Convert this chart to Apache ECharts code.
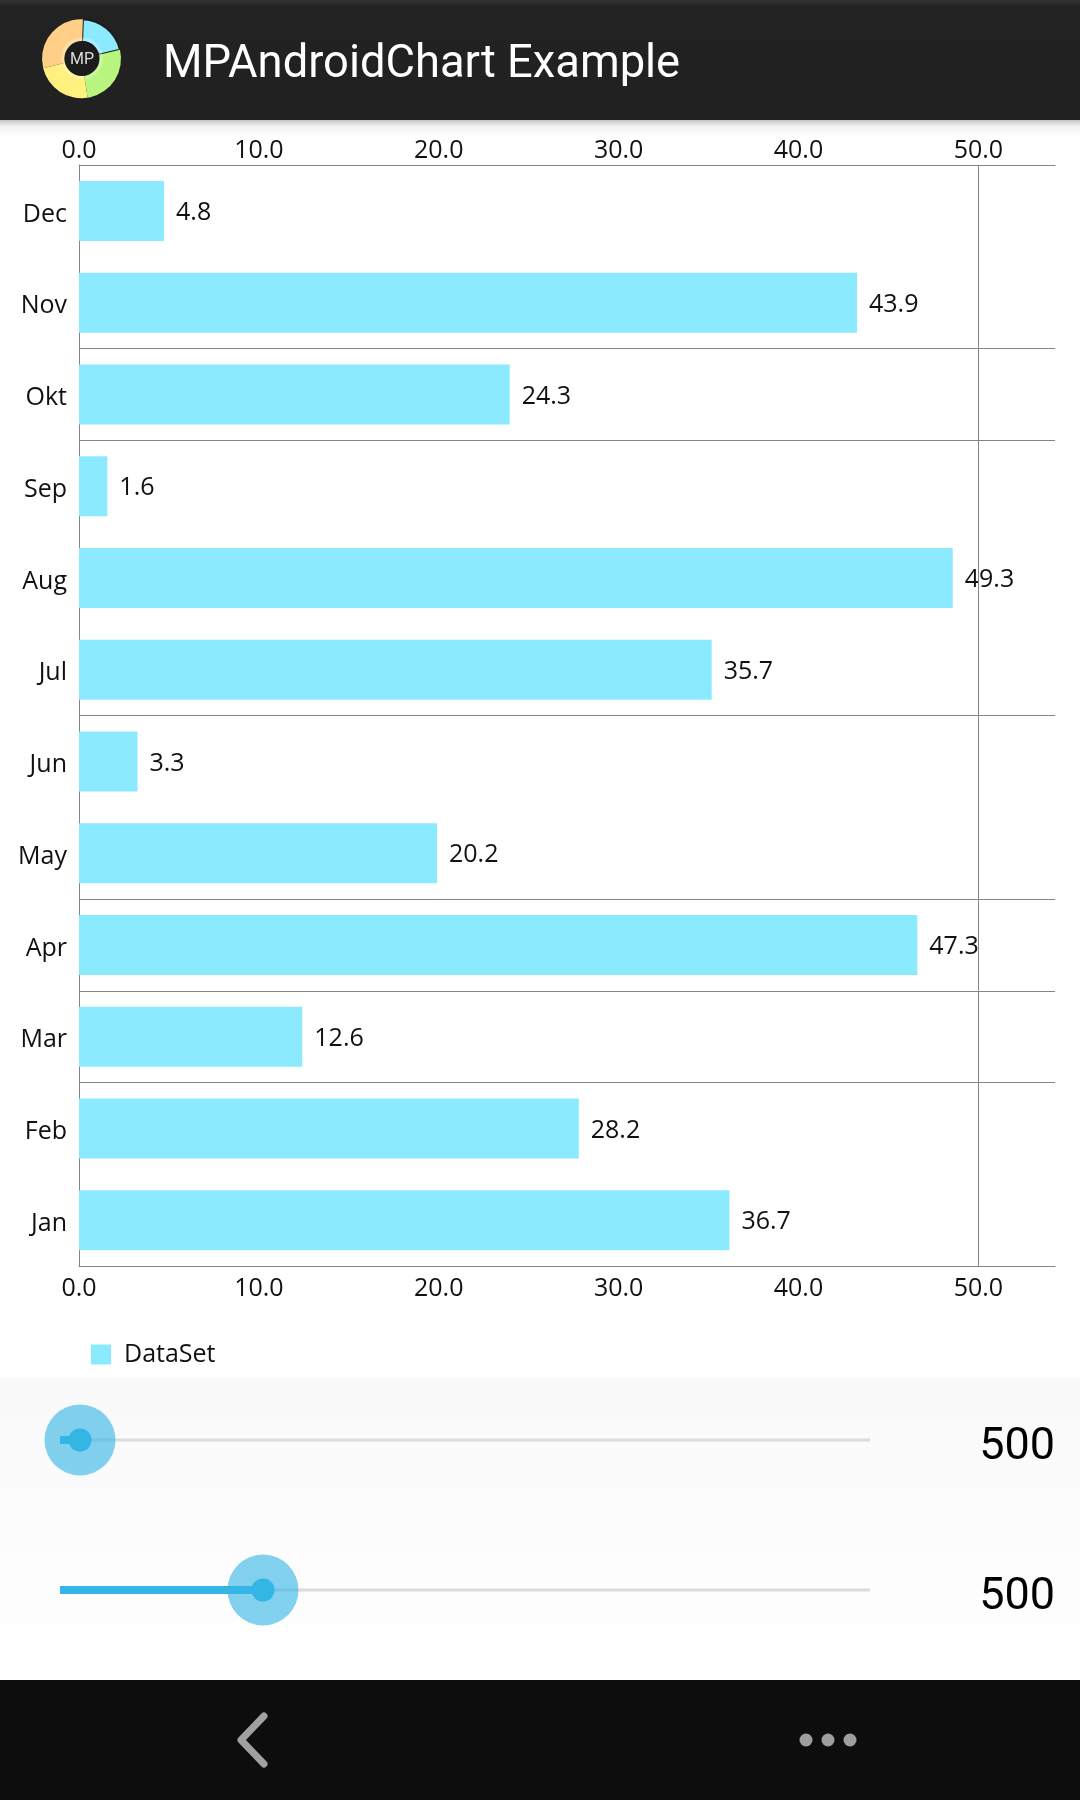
<!DOCTYPE html>
<html>
<head>
<meta charset="utf-8">
<style>
  html, body { margin: 0; padding: 0; background: #fff; }
  #chart { width: 1080px; height: 1800px; }
</style>
<script src="https://cdn.jsdelivr.net/npm/echarts@6/dist/echarts.min.js"></script>
</head>
<body>
<div id="chart"></div>
<script>
// values, bottom category first
const months = ["Jan", "Feb", "Mar", "Apr", "May", "Jun", "Jul", "Aug", "Sep", "Okt", "Nov", "Dec"];
const values = [36.7, 28.2, 12.6, 47.3, 20.2, 3.3, 35.7, 49.3, 1.6, 24.3, 43.9, 4.8];
const seriesName = "DataSet";
// only these category boundaries have a grid line in the reference
const gridLineMonths = [2, 3, 4, 6, 9, 10];
const verticalLineAt = [50];
const logoShares = [75, 94, 85, 106];
const logoColors = ["#8CEAFF", "#B9F67F", "#FFF07F", "#FFCF88"];
const sliderLabels = ["500", "500"];

const barColor = "#8CEAFF";
const lineColor = "#858585";
const labelFont = "Open Sans";

const chart = echarts.init(document.getElementById("chart"), null, { renderer: "canvas" });

const valueAxis = (position, margin) => ({
  type: "value",
  position: position,
  gridIndex: 0,
  min: 0,
  max: 54.26,
  interval: 10,
  splitLine: { show: false },
  axisTick: { show: false },
  axisLine: { show: true, onZero: false, lineStyle: { color: lineColor, width: 1 } },
  axisLabel: {
    showMaxLabel: false,
    margin: margin,
    fontFamily: labelFont,
    fontSize: 25,
    color: "#111",
    formatter: (v) => v.toFixed(1),
  },
});

// slider widget under the chart, not part of the data
const slider = (y, thumbX, text) => [
  { type: "rect", z: 1, shape: { x: 60, y: y - 1.5, width: 810, height: 3 }, style: { fill: "#DCDCDC" } },
  { type: "rect", z: 2, shape: { x: 60, y: y - 4, width: thumbX - 60, height: 8 }, style: { fill: "#33B5E5" } },
  { type: "circle", z: 3, shape: { cx: thumbX, cy: y, r: 35.5 }, style: { fill: "rgba(51,181,229,0.62)" } },
  { type: "circle", z: 4, shape: { cx: thumbX, cy: y, r: 11.5 }, style: { fill: "#33B5E5" } },
  {
    type: "text", z: 4, x: 1055, y: y + 8,
    style: { text: text, align: "right", verticalAlign: "middle", font: "45px Roboto", fill: "#000" },
  },
];

const option = {
  animation: false,
  backgroundColor: "#fff",
  grid: { left: 79, top: 165, width: 976, height: 1101, containLabel: false },
  legend: {
    data: [seriesName],
    left: 91,
    top: 1342,
    padding: 0,
    icon: "rect",
    itemWidth: 20,
    itemHeight: 20,
    selectedMode: false,
    textStyle: { fontFamily: labelFont, fontSize: 25, color: "#111", padding: [0, 0, 0, 8] },
  },
  xAxis: [
    valueAxis("bottom", 10),
    valueAxis("top", 2),
    // the reference draws its bars on a slightly wider scale than the printed axis
    { type: "value", show: false, min: 0, max: 55.07, splitLine: { show: false } },
  ],
  yAxis: {
    type: "category",
    data: months,
    axisTick: { show: false },
    axisLine: { show: true, lineStyle: { color: lineColor, width: 1 } },
    axisLabel: {
      margin: 12,
      formatter: "{m|{value}}",
      // padding on the rich token pushes the month names down a little, as in the reference
      rich: { m: { fontFamily: labelFont, fontSize: 25, color: "#111", padding: [7, 0, 0, 0] } },
    },
    splitLine: {
      show: true,
      interval: (index) => gridLineMonths.includes(index),
      lineStyle: { color: lineColor, width: 1 },
    },
  },
  series: [
    {
      name: seriesName,
      type: "bar",
      xAxisIndex: 2,
      data: values,
      barWidth: 60,
      itemStyle: { color: barColor },
      label: {
        show: true,
        position: "right",
        distance: 12,
        offset: [0, 2],
        formatter: "{c}",
        fontFamily: labelFont,
        fontSize: 25,
        color: "#111",
      },
      z: 3,
    },
    {
      type: "line",
      xAxisIndex: 0,
      data: [],
      markLine: {
        silent: true,
        symbol: "none",
        label: { show: false },
        lineStyle: { color: lineColor, width: 1, type: "solid" },
        data: verticalLineAt.map((v) => ({ xAxis: v })),
      },
    },
    {
      type: "pie",
      center: [81.5, 58.7],
      radius: [17, 39.5],
      startAngle: 88,
      silent: true,
      label: { show: false },
      labelLine: { show: false },
      data: logoShares.map((v, i) => ({
        value: v,
        itemStyle: i === 0
          ? { color: logoColors[i], borderColor: "#1c1c1c", borderWidth: 2 }
          : { color: logoColors[i], borderWidth: 0 },
      })),
      z: 6,
    },
  ],
  graphic: [
    // action bar
    { type: "rect", z: 0, shape: { x: 0, y: 120, width: 1080, height: 16 },
      style: { fill: new echarts.graphic.LinearGradient(0, 0, 0, 1, [
        { offset: 0, color: "#C4C4C4" }, { offset: 0.4, color: "#F2F2F2" }, { offset: 1, color: "#FFFFFF" },
      ]) } },
    { type: "rect", z: 1, shape: { x: 0, y: 0, width: 1080, height: 120 },
      style: { fill: new echarts.graphic.LinearGradient(0, 0, 0, 1, [
        { offset: 0, color: "#333333" }, { offset: 0.06, color: "#222222" }, { offset: 1, color: "#212121" },
      ]) } },
    { type: "circle", z: 10, shape: { cx: 82, cy: 58.5, r: 21 }, style: { fill: "rgba(255,255,255,0.25)" } },
    { type: "circle", z: 10, shape: { cx: 82, cy: 58.5, r: 17.5 }, style: { fill: "#1C1C1C" } },
    { type: "text", z: 11, x: 82, y: 60,
      style: { text: "MP", align: "center", verticalAlign: "middle", font: "16px Roboto", fill: "#DDD" } },
    { type: "text", z: 11, x: 163, y: 66,
      style: { text: "MPAndroidChart Example", align: "left", verticalAlign: "middle", font: "45.3px Roboto", fill: "#FFF" } },
    // panel behind the sliders
    { type: "rect", z: 0, shape: { x: 0, y: 1378, width: 1080, height: 302 },
      style: { fill: new echarts.graphic.LinearGradient(0, 0, 0, 1, [
        { offset: 0, color: "#F9F9F9" }, { offset: 1, color: "#FFFFFF" },
      ]) } },
    ...slider(1440, 80, sliderLabels[0]),
    ...slider(1590, 263, sliderLabels[1]),
    // navigation bar
    { type: "rect", z: 1, shape: { x: 0, y: 1680, width: 1080, height: 120 }, style: { fill: "#0D0D0D" } },
    { type: "polyline", z: 2, shape: { points: [[264, 1716], [241, 1740], [264, 1764]] },
      style: { stroke: "#A0A0A0", lineWidth: 7, lineCap: "round", lineJoin: "round", fill: "none" } },
    { type: "circle", z: 2, shape: { cx: 806, cy: 1740, r: 6.5 }, style: { fill: "#9E9E9E" } },
    { type: "circle", z: 2, shape: { cx: 828, cy: 1740, r: 6.5 }, style: { fill: "#9E9E9E" } },
    { type: "circle", z: 2, shape: { cx: 850, cy: 1740, r: 6.5 }, style: { fill: "#9E9E9E" } },
  ],
};

option && chart.setOption(option);
</script>
</body>
</html>
